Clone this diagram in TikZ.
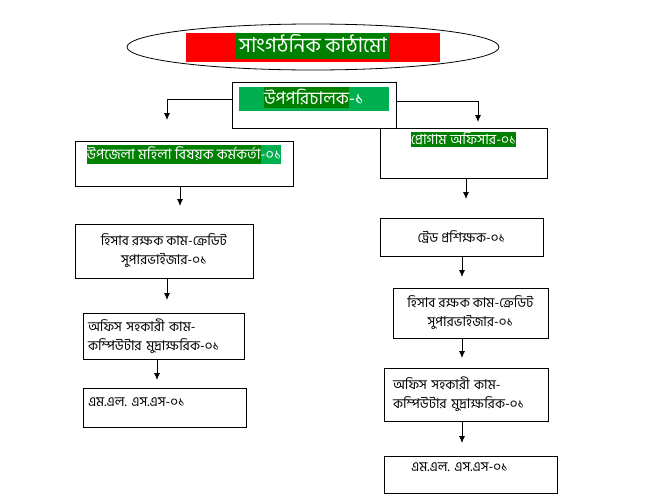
\documentclass[tikz,border=0pt]{standalone}
\usepackage{fontspec}
\usepackage{xcolor}
\usepackage{tikz}
\newfontfamily\bn[Script=Bengali]{Hind Siliguri}
\usetikzlibrary{shapes,arrows,arrows.meta,positioning}
\definecolor{dgreen}{HTML}{008000}
\definecolor{lgreen}{HTML}{00B050}
\newcommand{\hlbox}[4]{{\setlength{\fboxsep}{0pt}\colorbox{#1}{\vrule width0pt height#2 depth#3\relax#4}}}
\frenchspacing

\begin{document}
\begin{tikzpicture}[x=1pt, y=-1pt,
        post box/.style={rectangle, draw, line width=0.9pt, inner sep=0pt, font=\bn\fontsize{13.5}{19}\selectfont},
        line/.style={draw, -{Latex[length=7pt,width=6pt]}, line width=0.8pt}]
    \useasboundingbox (0,0) rectangle (648,498);

    % title
    \node [ellipse, draw, line width=0.8pt, inner sep=0pt, minimum width=372pt, minimum height=46pt,
        font=\bn\fontsize{20.5}{22}\selectfont] (title) at (313,47)
        {\hlbox{red}{20pt}{9pt}{\makebox[254pt]{\hlbox{dgreen}{20pt}{6pt}{\color{white}\,সাংগঠনিক কাঠামো\,}}}};

    % top level
    \node [post box, minimum width=164pt, text height=22pt, text depth=24pt,
        font=\bn\fontsize{17.5}{19}\selectfont] (dep) at (314,105)
        {\color{white}\hlbox{lgreen}{17pt}{7pt}{\makebox[150pt]{\hlbox{dgreen}{17pt}{4pt}{উপপরিচালক}-১}}};
    \node [post box, minimum width=218pt, text height=18pt, text depth=27pt,
        font=\bn\fontsize{14.5}{16}\selectfont] (lbox) at (184,163.5)
        {\color{white}\hlbox{lgreen}{14pt}{5pt}{\hlbox{dgreen}{14pt}{5pt}{উপজেলা মহিলা বিষয়ক কর্মকর্তা}-০১}};
    \node [post box, minimum width=167pt, text height=16pt, text depth=34pt,
        font=\bn\fontsize{14}{15}\selectfont] (rbox) at (463.5,153)
        {\color{white}\hlbox{dgreen}{11pt}{3pt}{প্রোগাম অফিসার-০১}};

    % left column
    \node [post box, minimum width=178pt, minimum height=54pt, align=center] (lhis) at (164,251)
        {হিসাব রক্ষক কাম-ক্রেডিট\\সুপারভাইজার-০১};
    \node [post box, text width=151pt, inner xsep=5pt, minimum height=46pt, align=left] (loff) at (163.5,336)
        {অফিস সহকারী কাম-\\কম্পিউটার মুদ্রাক্ষরিক-০১};
    \node [post box, text width=153pt, inner xsep=5pt, text height=18pt, text depth=21pt, align=left] (lmls) at (164.5,407.5)
        {এম.এল. এস.এস-০১};

    % right column
    \node [post box, minimum width=163pt, minimum height=38pt] (rtrain) at (461.5,237)
        {ট্রেড প্রশিক্ষক-০১};
    \node [post box, minimum width=155pt, minimum height=50pt, align=center] (rhis) at (470.5,313)
        {হিসাব রক্ষক কাম-ক্রেডিট\\সুপারভাইজার-০১};
    \node [post box, text width=146pt, inner xsep=9pt, minimum height=53pt, align=left] (roff) at (466,394.5)
        {অফিস সহকারী কাম-\\কম্পিউটার মুদ্রাক্ষরিক-০১};
    \node [post box, text width=119pt, inner xsep=27pt, text height=15pt, text depth=22pt, align=left] (rmls) at (470.5,474.5)
        {এম.এল. এস.এস-০১};

    % arrows
    \coordinate (ltip) at (167,120);
    \coordinate (rtip) at (478,122);
    \path [line] ([yshift=6pt]dep.west) -| (ltip);
    \path [line] ([yshift=4pt]dep.east) -| (rtip);

    \coordinate (t1) at (180,206);
    \coordinate (t2) at (167,300);
    \coordinate (t3) at (157,380);
    \coordinate (t4) at (466,199);
    \coordinate (t5) at (462,277);
    \coordinate (t6) at (462,358);
    \coordinate (t7) at (462,443);
    \path [line] (lbox.south -| t1) -- (t1);
    \path [line] (lhis.south -| t2) -- (t2);
    \path [line] (loff.south -| t3) -- (t3);
    \path [line] (rbox.south -| t4) -- (t4);
    \path [line] (rtrain.south -| t5) -- (t5);
    \path [line] (rhis.south -| t6) -- (t6);
    \path [line] (roff.south -| t7) -- (t7);
\end{tikzpicture}
\end{document}
